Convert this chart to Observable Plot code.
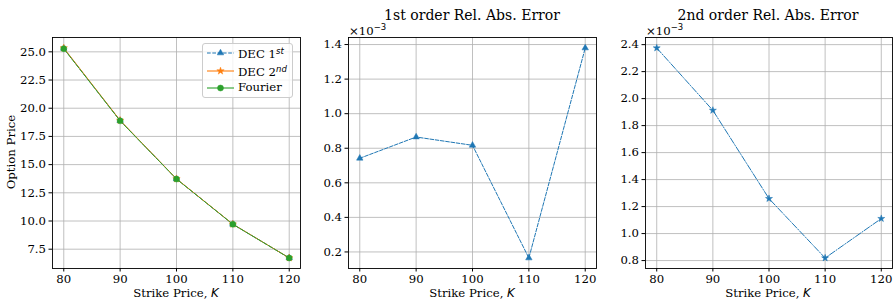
<!DOCTYPE html>
<html><head><meta charset="utf-8">
<script src="https://cdn.jsdelivr.net/npm/d3@7"></script>
<script src="https://cdn.jsdelivr.net/npm/@observablehq/plot@0.6"></script>
<style>
html,body{margin:0;padding:0;background:#fff;}
#root{position:relative;width:894px;height:301px;overflow:hidden;font-family:"DejaVu Serif";color:#000;}
#root svg.plot{position:absolute;top:0;}
.lbl{position:absolute;font-family:"DejaVu Serif";font-size:11.7px;line-height:1;white-space:nowrap;}
.math{font-family:"DejaVu Sans";font-style:italic;}
.title{position:absolute;font-family:"DejaVu Serif";font-size:14px;line-height:1;white-space:nowrap;transform:translateX(-50%);}
</style>
</head><body><div id="root"></div>
<script>
// ---- data ----
const strikes = [80, 90, 100, 110, 120];
const priceDEC1 = [25.30, 18.90, 13.73, 9.71, 6.73];
const priceDEC2 = [25.34, 18.92, 13.74, 9.72, 6.73];
const priceFourier = [25.28, 18.88, 13.72, 9.71, 6.72];
const relErr1st = [0.742, 0.865, 0.817, 0.165, 1.380]; // x 1e-3
const relErr2nd = [2.375, 1.913, 1.259, 0.819, 1.111]; // x 1e-3
const yTicksPrice = [7.5, 10, 12.5, 15, 17.5, 20, 22.5, 25];
const yTicksErr1 = [0.2, 0.4, 0.6, 0.8, 1.0, 1.2, 1.4];
const yTicksErr2 = [0.8, 1.0, 1.2, 1.4, 1.6, 1.8, 2.0, 2.2, 2.4];
const titles = ["1st order Rel. Abs. Error", "2nd order Rel. Abs. Error"];

const BLUE = "#1f77b4", ORANGE = "#ff7f0e", GREEN = "#2ca02c";
const root = document.getElementById("root");

function pad(vals){const lo=d3.min(vals),hi=d3.max(vals),m=(hi-lo)*0.05;return [lo-m,hi+m];}

function panel({left, width, marginLeft, yDomain, yTicks, series}) {
  const marks = [
    Plot.gridX(strikes, {stroke:"#b0b0b0", strokeOpacity:1, strokeWidth:0.8}),
    Plot.gridY(yTicks, {stroke:"#b0b0b0", strokeOpacity:1, strokeWidth:0.8}),
  ];
  for (const s of series) {
    const data = strikes.map((k,i)=>({k, v:s.values[i]}));
    marks.push(Plot.line(data, {x:"k", y:"v", stroke:s.color, strokeWidth:1, strokeDasharray:s.dash}));
    marks.push(Plot.dot(data, {x:"k", y:"v", fill:s.color, stroke:s.color, strokeWidth:0.5, symbol:s.symbol, r:s.r}));
  }
  marks.push(Plot.frame({stroke:"black", strokeWidth:0.9}));
  marks.push(Plot.axisX(strikes, {tickSize:3.5, tickPadding:3, label:null, fontSize:11.7, tickFormat:d=>String(d)}));
  marks.push(Plot.axisY(yTicks, {tickSize:3.5, tickPadding:3, label:null, fontSize:11.7, tickFormat:d=>d.toFixed(1)}));
  const svg = Plot.plot({
    width, height:301, marginLeft, marginRight:2, marginTop:37, marginBottom:33,
    style:{fontFamily:"DejaVu Serif", fontSize:"11.7px", background:"transparent", color:"black", overflow:"visible"},
    x:{domain:[78,122]},
    y:{domain:yDomain},
    marks
  });
  svg.classList.add("plot");
  svg.style.left = left + "px";
  root.appendChild(svg);
}

panel({left:0, width:302, marginLeft:52,
  yDomain: pad([...priceDEC1,...priceDEC2,...priceFourier]), yTicks:yTicksPrice,
  series:[
    {values:priceDEC1, color:BLUE, dash:"3.7,1.6", symbol:"triangle", r:2.4},
    {values:priceDEC2, color:ORANGE, dash:null, symbol:"star", r:2.3},
    {values:priceFourier, color:GREEN, dash:"5,1.5", symbol:"circle", r:3},
  ]});
panel({left:300, width:298, marginLeft:48,
  yDomain: pad(relErr1st), yTicks:yTicksErr1,
  series:[{values:relErr1st, color:BLUE, dash:"3.7,1.6", symbol:"triangle", r:2.4}]});
panel({left:594, width:300, marginLeft:51,
  yDomain: pad(relErr2nd), yTicks:yTicksErr2,
  series:[{values:relErr2nd, color:BLUE, dash:"6.4,1.6,1,1.6", symbol:"star", r:2.2}]});

function addHTML(html, style, cls="lbl"){
  const d=document.createElement("div"); d.className=cls; d.innerHTML=html;
  Object.assign(d.style, style); root.appendChild(d); return d;
}
// x labels
for (const cx of [176, 472, 768]) {
  addHTML('Strike Price, <span class="math">K</span>', {left:cx+"px", top:"287.5px", transform:"translateX(-50%)"});
}
// y label
addHTML('Option Price', {left:"12px", top:"152px", transform:"translate(-50%,-50%) rotate(-90deg)"});
// titles
addHTML(titles[0], {left:"472px", top:"8px"}, "title");
addHTML(titles[1], {left:"768px", top:"8px"}, "title");
// offset text
addHTML('×10<sup class="math" style="font-style:normal;font-size:8.5px;vertical-align:5px">−3</sup>', {left:"349px", top:"23px"});
addHTML('×10<sup class="math" style="font-style:normal;font-size:8.5px;vertical-align:5px">−3</sup>', {left:"646px", top:"23px"});

// legend
const legendItems = [
  {html:'DEC 1<sup class="math" style="font-size:8.5px;vertical-align:4px">st</sup>', color:BLUE, dash:"3.7,1.6", sym:d3.symbolTriangle, r:2.4},
  {html:'DEC 2<sup class="math" style="font-size:8.5px;vertical-align:4px">nd</sup>', color:ORANGE, dash:null, sym:d3.symbolStar, r:2.3},
  {html:'Fourier', color:GREEN, dash:null, sym:d3.symbolCircle, r:3},
];
const leg = document.createElement("div");
Object.assign(leg.style, {position:"absolute", left:"202px", top:"43px", width:"91px", height:"55px",
  background:"rgba(255,255,255,0.8)", border:"1px solid #cccccc", borderRadius:"3px", boxSizing:"border-box"});
root.appendChild(leg);
legendItems.forEach((it,i)=>{
  const cy = 9 + i*17.7;
  const ns="http://www.w3.org/2000/svg";
  const s=document.createElementNS(ns,"svg");
  s.setAttribute("width","30"); s.setAttribute("height","12");
  Object.assign(s.style,{position:"absolute", left:"3px", top:(cy-6)+"px"});
  const ln=document.createElementNS(ns,"line");
  ln.setAttribute("x1","1");ln.setAttribute("x2","28");ln.setAttribute("y1","6");ln.setAttribute("y2","6");
  ln.setAttribute("stroke",it.color);ln.setAttribute("stroke-width","1.1");
  if(it.dash) ln.setAttribute("stroke-dasharray",it.dash);
  s.appendChild(ln);
  const p=document.createElementNS(ns,"path");
  p.setAttribute("d", d3.symbol(it.sym, Math.PI*it.r*it.r)());
  p.setAttribute("transform","translate(14.5,6)");
  p.setAttribute("fill",it.color);p.setAttribute("stroke",it.color);p.setAttribute("stroke-width","0.5");
  s.appendChild(p);
  leg.appendChild(s);
  const t=document.createElement("div"); t.className="lbl"; t.innerHTML=it.html;
  Object.assign(t.style,{left:"35px", top:(cy-6)+"px"});
  leg.appendChild(t);
});
</script></body></html>
